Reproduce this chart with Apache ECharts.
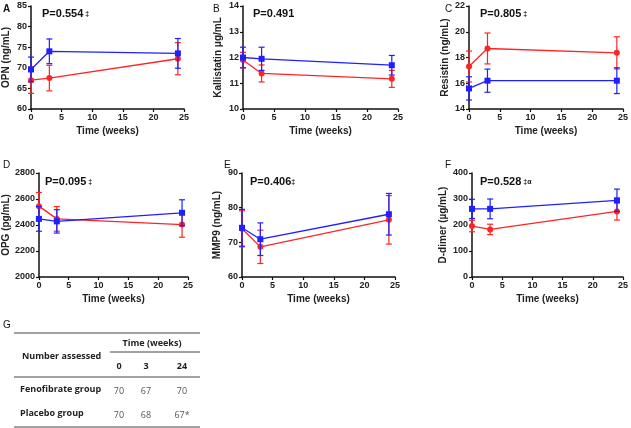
<!DOCTYPE html>
<html>
<head>
<meta charset="utf-8">
<script src="https://cdn.jsdelivr.net/npm/echarts@6/dist/echarts.min.js"></script>
<style>
html,body{margin:0;padding:0;background:#fff;}
#main{width:631px;height:428px;}
</style>
</head>
<body>
<div id="main"></div>
<script>
// ---- data ----
var weeks = [0, 3, 24];
var xTicks = [0, 5, 10, 15, 20, 25];

var opnBlue = [69.6, 74.0, 73.5];   var opnBlueErr = [3.0, 3.0, 3.6];
var opnRed  = [67.0, 67.5, 72.2];   var opnRedErr  = [3.2, 3.1, 3.9];
var kalBlue = [12.0, 11.95, 11.7];  var kalBlueErr = [0.4, 0.45, 0.38];
var kalRed  = [11.9, 11.38, 11.17]; var kalRedErr  = [0.3, 0.33, 0.33];
var resBlue = [15.6, 16.2, 16.2];   var resBlueErr = [0.9, 0.9, 1.0];
var resRed  = [17.3, 18.7, 18.36];  var resRedErr  = [1.2, 1.2, 1.25];
var opgBlue = [2447, 2428, 2494];   var opgBlueErr = [95, 90, 100];
var opgRed  = [2545, 2447, 2403];   var opgRedErr  = [105, 95, 97];
var mmpBlue = [74.2, 70.9, 78.1];   var mmpBlueErr = [5.3, 4.7, 6.0];
var mmpRed  = [73.9, 68.7, 76.5];   var mmpRedErr  = [5.2, 4.8, 7.0];
var ddBlue  = [262, 262, 295];      var ddBlueErr  = [37, 38, 43];
var ddRed   = [196, 183, 252];      var ddRedErr   = [22, 20, 33];

var panelLetters = ['A', 'B', 'C', 'D', 'E', 'F'];
var yNames = ['OPN (ng/mL)', 'Kallistatin \u03bcg/mL', 'Resistin (ng/mL)', 'OPG (pg/mL)', 'MMP9 (ng/mL)', 'D-dimer (\u00b5g/mL)'];
var pValues = ['P=0.554', 'P=0.491', 'P=0.805', 'P=0.095', 'P=0.406', 'P=0.528'];
var pMarks = [' \u2021', '', ' \u2021', ' \u2021', '\u2021', ' \u2021\u03b1'];
var yMin = [60, 10, 14, 2000, 60, 0];
var yMax = [85, 14, 22, 2800, 90, 400];
var yStep = [5, 1, 2, 200, 10, 100];

var tableHeader = 'Number assessed';
var tableTimeTitle = 'Time (weeks)';
var tableCols = ['0', '3', '24'];
var tableRows = ['Fenofibrate group', 'Placebo group'];
var fenoN = ['70', '67', '70'];
var placeboN = ['70', '68', '67*'];

// ---- layout ----
var grids = [
  {left: 31, top: 6, width: 153, height: 103},
  {left: 243, top: 6, width: 155, height: 103},
  {left: 469, top: 6, width: 155, height: 103},
  {left: 33, top: 173, width: 155, height: 104},
  {left: 242, top: 173, width: 153, height: 104},
  {left: 472, top: 173, width: 154, height: 104}
];
var nameGaps = [20, 20, 19, 21, 20, 24];
var letterPos = [[3, 4], [213, 4], [445, 4], [3, 160], [224, 160], [445, 160]];
var pPos = [[42, 14], [253, 14], [480, 14], [45, 182], [250, 182], [480, 182]];

var BLUE = '#1f1fff';
var RED = '#ff2424';
var FONT = 'Liberation Sans, Arial, sans-serif';

var seriesBlue = [[opnBlue, opnBlueErr], [kalBlue, kalBlueErr], [resBlue, resBlueErr], [opgBlue, opgBlueErr], [mmpBlue, mmpBlueErr], [ddBlue, ddBlueErr]];
var seriesRed = [[opnRed, opnRedErr], [kalRed, kalRedErr], [resRed, resRedErr], [opgRed, opgRedErr], [mmpRed, mmpRedErr], [ddRed, ddRedErr]];

function pts(vals) { return weeks.map(function (w, i) { return [w, vals[i]]; }); }
function errPts(vals, errs) { return weeks.map(function (w, i) { return [w, vals[i], errs[i]]; }); }

function errRender(color) {
  return function (params, api) {
    var x = api.value(0), y = api.value(1), e = api.value(2);
    var t = api.coord([x, y + e]);
    var b = api.coord([x, y - e]);
    var hw = 3;
    var st = {stroke: color, lineWidth: 1.2};
    return {
      type: 'group',
      children: [
        {type: 'line', shape: {x1: t[0], y1: t[1], x2: b[0], y2: b[1]}, style: st},
        {type: 'line', shape: {x1: t[0] - hw, y1: t[1], x2: t[0] + hw, y2: t[1]}, style: st},
        {type: 'line', shape: {x1: b[0] - hw, y1: b[1], x2: b[0] + hw, y2: b[1]}, style: st}
      ]
    };
  };
}

var xAxes = [], yAxes = [], series = [], graphics = [];
grids.forEach(function (g, i) {
  xAxes.push({
    gridIndex: i, type: 'value', min: 0, max: 25, interval: 5,
    name: 'Time (weeks)', nameLocation: 'middle', nameGap: 17,
    nameTextStyle: {fontFamily: FONT, fontWeight: 'bold', fontSize: 10, color: '#222'},
    axisLine: {lineStyle: {color: '#111', width: 1.5}},
    axisTick: {length: 3, lineStyle: {color: '#111', width: 1.2}},
    axisLabel: {fontFamily: FONT, fontWeight: 'bold', fontSize: 9, color: '#222', margin: 4},
    splitLine: {show: false}
  });
  yAxes.push({
    gridIndex: i, type: 'value', min: yMin[i], max: yMax[i], interval: yStep[i],
    name: yNames[i], nameLocation: 'middle', nameGap: nameGaps[i],
    nameTextStyle: {fontFamily: FONT, fontSize: 10, color: '#222', fontWeight: 'bold'},
    axisLine: {show: true, lineStyle: {color: '#111', width: 1.5}},
    axisTick: {show: true, length: 3, lineStyle: {color: '#111', width: 1.2}},
    axisLabel: {fontFamily: FONT, fontWeight: 'bold', fontSize: 9, color: '#222', margin: 4,
      formatter: function (v) { return String(v); }},
    splitLine: {show: false}
  });
  var red = seriesRed[i], blue = seriesBlue[i];
  series.push({
    type: 'custom', xAxisIndex: i, yAxisIndex: i, renderItem: errRender(RED),
    data: errPts(red[0], red[1]), clip: false, z: 2
  });
  series.push({
    type: 'line', xAxisIndex: i, yAxisIndex: i, data: pts(red[0]),
    symbol: 'circle', symbolSize: 6, itemStyle: {color: RED}, lineStyle: {color: RED, width: 1.3}, z: 3
  });
  series.push({
    type: 'custom', xAxisIndex: i, yAxisIndex: i, renderItem: errRender(BLUE),
    data: errPts(blue[0], blue[1]), clip: false, z: 4
  });
  series.push({
    type: 'line', xAxisIndex: i, yAxisIndex: i, data: pts(blue[0]),
    symbol: 'rect', symbolSize: 6, itemStyle: {color: BLUE}, lineStyle: {color: BLUE, width: 1.3}, z: 5
  });
  graphics.push({
    type: 'text', left: letterPos[i][0], top: letterPos[i][1],
    style: {text: panelLetters[i], font: (i === 0 ? 'bold ' : '') + '10px ' + FONT, fill: '#111'}
  });
  graphics.push({
    type: 'text', x: pPos[i][0], y: pPos[i][1],
    style: {
      text: '{a|' + pValues[i] + '}' + (pMarks[i] ? '{b|' + pMarks[i] + '}' : ''),
      verticalAlign: 'middle',
      rich: {
        a: {font: 'bold 11px ' + FONT, fill: '#111'},
        b: {font: 'bold 7px ' + FONT, fill: '#111', verticalAlign: 'middle'}
      }
    }
  });
});

// ---- table G ----
var lineStyle = {stroke: '#444', lineWidth: 1};
graphics.push({type: 'text', x: 3, y: 320, style: {text: 'G', font: '10px ' + FONT, fill: '#111'}});
graphics.push({type: 'line', shape: {x1: 14, y1: 333, x2: 200, y2: 333}, style: lineStyle});
graphics.push({type: 'line', shape: {x1: 110, y1: 352, x2: 200, y2: 352}, style: lineStyle});
graphics.push({type: 'line', shape: {x1: 14, y1: 377, x2: 200, y2: 377}, style: lineStyle});
graphics.push({type: 'line', shape: {x1: 14, y1: 427, x2: 200, y2: 427}, style: lineStyle});
var TF = '"Open Sans", "Liberation Sans", sans-serif';
graphics.push({type: 'text', x: 152, y: 343, style: {text: tableTimeTitle, font: 'bold 9px ' + TF, fill: '#222', align: 'center', verticalAlign: 'middle'}});
graphics.push({type: 'text', x: 22, y: 356, style: {text: tableHeader, font: 'bold 9px ' + TF, fill: '#222', verticalAlign: 'middle'}});
var colX = [119, 146, 182];
tableCols.forEach(function (c, j) {
  graphics.push({type: 'text', x: colX[j], y: 366, style: {text: c, font: 'bold 9px ' + TF, fill: '#222', align: 'center', verticalAlign: 'middle'}});
});
var rowY = [389, 413];
var rowVals = [fenoN, placeboN];
tableRows.forEach(function (r, k) {
  graphics.push({type: 'text', x: 20, y: rowY[k], style: {text: r, font: 'bold 9px ' + TF, fill: '#222', verticalAlign: 'middle'}});
  rowVals[k].forEach(function (v, j) {
    graphics.push({type: 'text', x: colX[j], y: rowY[k] + 2, style: {text: v, font: '9px ' + TF, fill: '#555', align: 'center', verticalAlign: 'middle'}});
  });
});

var chart = echarts.init(document.getElementById('main'), null, {renderer: 'canvas'});
chart.setOption({
  animation: false,
  backgroundColor: '#fff',
  grid: grids,
  xAxis: xAxes,
  yAxis: yAxes,
  series: series,
  graphic: graphics
});
</script>
</body>
</html>
